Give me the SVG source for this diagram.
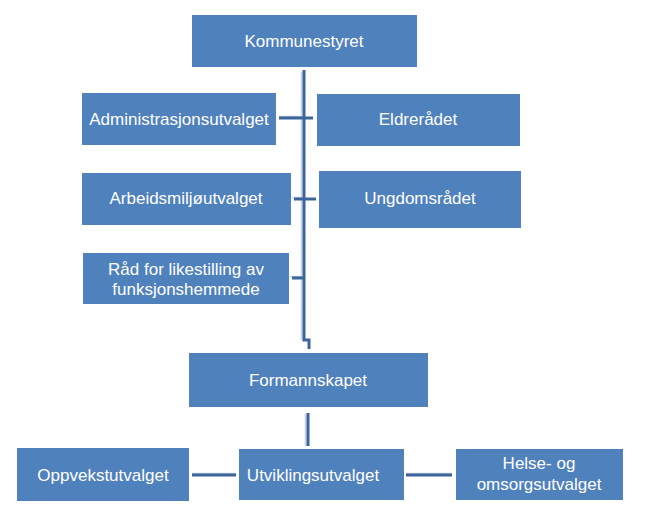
<svg xmlns="http://www.w3.org/2000/svg" width="650" height="518" viewBox="0 0 650 518">
<style>
.box{fill:#4F81BD}
.t{fill:#fff;font-family:"Liberation Sans",Arial,sans-serif;font-size:17px;text-anchor:middle}
.c{fill:none;stroke:#3B659A;stroke-width:3}
.s{fill:none;stroke:#C3D1E4;stroke-width:1.5}
</style>
<rect width="650" height="518" fill="#fff"/>
<g id="connectors">
<path class="s" d="M301.5 72 V340 M279 116.5 H302 M292 197.5 H302 M290 276.5 H302 M305.5 414 V446 M192 473.5 H236 M406 473.5 H452"/>
<path class="c" d="M304 70 V340 H309 V349 M279 118 H313 M294 199 H316 M292 278 H304 M308 413 V446 M192 475 H236 M406 475 H452"/>
</g>
<g id="kommunestyret"><rect class="box" x="192" y="15" width="225" height="52"/><text class="t" x="304" y="47">Kommunestyret</text></g>
<g id="administrasjonsutvalget"><rect class="box" x="82" y="93" width="194" height="52"/><text class="t" x="179" y="125">Administrasjonsutvalget</text></g>
<g id="eldreradet"><rect class="box" x="317" y="94" width="203" height="52"/><text class="t" x="418" y="125">Eldrerådet</text></g>
<g id="arbeidsmiljoutvalget"><rect class="box" x="82" y="173" width="209" height="52"/><text class="t" x="186" y="204">Arbeidsmiljøutvalget</text></g>
<g id="ungdomsradet"><rect class="box" x="319" y="171" width="202" height="57"/><text class="t" x="420" y="204">Ungdomsrådet</text></g>
<g id="rad-likestilling"><rect class="box" x="83" y="253" width="206" height="51"/><text class="t" x="186" y="275">Råd for likestilling  av</text><text class="t" x="186" y="295">funksjonshemmede</text></g>
<g id="formannskapet"><rect class="box" x="189" y="353" width="239" height="54"/><text class="t" x="308" y="386">Formannskapet</text></g>
<g id="oppvekstutvalget"><rect class="box" x="17" y="448" width="172" height="53"/><text class="t" x="103" y="481">Oppvekstutvalget</text></g>
<g id="utviklingsutvalget"><rect class="box" x="239" y="449" width="165" height="51"/><text class="t" x="313" y="481">Utviklingsutvalget</text></g>
<g id="helse-omsorg"><rect class="box" x="456" y="449" width="167" height="51"/><text class="t" x="539" y="469">Helse- og</text><text class="t" x="539" y="490">omsorgsutvalget</text></g>
</svg>
